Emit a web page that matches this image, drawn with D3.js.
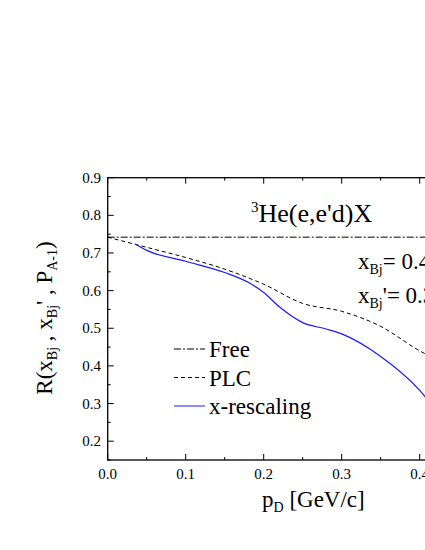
<!DOCTYPE html><html><head><meta charset="utf-8"><script src="https://cdn.jsdelivr.net/npm/d3@7"></script>
<style>body{margin:0;background:#fff}svg{display:block;font-family:"Liberation Serif","Times New Roman",serif}</style></head><body>
<svg id="c" width="425" height="550"></svg>
<script>
const freeX=[0,0.45], freeY=[0.742,0.742];
const plcX=[0,0.05,0.1,0.15,0.2,0.25,0.3,0.35,0.4,0.42];
const plcY=[0.742,0.715,0.688,0.657,0.617,0.566,0.545,0.505,0.44,0.418];
const xrX=[0.035,0.05,0.1,0.15,0.18,0.2,0.22,0.25,0.28,0.3,0.35,0.4,0.415];
const xrY=[0.724,0.707,0.678,0.648,0.622,0.595,0.557,0.515,0.498,0.485,0.425,0.335,0.298];
const xTicks=[0,0.1,0.2,0.3,0.4], yTicks=[0.2,0.3,0.4,0.5,0.6,0.7,0.8,0.9];
const svg=d3.select("#c");
const x=d3.scaleLinear().domain([0,0.45]).range([107.7,458.7]);
const y=d3.scaleLinear().domain([0.15,0.9]).range([460,177.7]);
const g=svg.append("g");
g.append("rect").attr("x",x(0)).attr("y",y(0.9)).attr("width",x(0.45)-x(0)).attr("height",y(0.15)-y(0.9)).attr("fill","none").attr("stroke","#000").attr("stroke-width",1.3);
[0,0.05,0.1,0.15,0.2,0.25,0.3,0.35,0.4].forEach(v=>{const L=xTicks.some(t=>Math.abs(t-v)<1e-9)?6:3;
 g.append("line").attr("x1",x(v)).attr("x2",x(v)).attr("y1",y(0.15)).attr("y2",y(0.15)-L).attr("stroke","#000");
 g.append("line").attr("x1",x(v)).attr("x2",x(v)).attr("y1",y(0.9)).attr("y2",y(0.9)+L).attr("stroke","#000");});
d3.range(0.15,0.901,0.05).forEach(v=>{const L=Math.abs(v*10-Math.round(v*10))<1e-6?6:3;
 g.append("line").attr("x1",x(0)).attr("x2",x(0)+L).attr("y1",y(v)).attr("y2",y(v)).attr("stroke","#000");});
xTicks.forEach(v=>g.append("text").attr("x",x(v)).attr("y",479).attr("text-anchor","middle").attr("font-size",15).text(v.toFixed(1)));
yTicks.forEach(v=>g.append("text").attr("x",101).attr("y",y(v)+5).attr("text-anchor","end").attr("font-size",15).text(v.toFixed(1)));
const ln=d3.line().x(d=>x(d[0])).y(d=>y(d[1])).curve(d3.curveMonotoneX);
g.append("path").attr("d",ln(d3.zip(freeX,freeY))).attr("fill","none").attr("stroke","#000").attr("stroke-dasharray","7,2,2,2");
g.append("path").attr("d",ln(d3.zip(plcX,plcY))).attr("fill","none").attr("stroke","#000").attr("stroke-dasharray","4,3");
g.append("path").attr("d",ln(d3.zip(xrX,xrY))).attr("fill","none").attr("stroke","#1a1aff").attr("stroke-width",1.2);
const leg=[["Free","7,2,2,2","#000"],["PLC","4,3","#000"],["x-rescaling",null,"#1a1aff"]];
leg.forEach((d,i)=>{const yy=349+i*28.5;
 g.append("line").attr("x1",174).attr("x2",205).attr("y1",yy).attr("y2",yy).attr("stroke",d[2]).attr("stroke-dasharray",d[1]);
 g.append("text").attr("x",209).attr("y",yy+8).attr("font-size",23).text(d[0]);});
const t=g.append("text").attr("x",251).attr("y",222).attr("font-size",26);
t.append("tspan").attr("font-size",15).attr("dy",-10).text("3");t.append("tspan").attr("dy",10).text("He(e,e'd)X");
const a=g.append("text").attr("x",358).attr("y",269).attr("font-size",23);
a.append("tspan").text("x");a.append("tspan").attr("font-size",14).attr("dy",5).text("Bj");a.append("tspan").attr("dy",-5).text("= 0.4");
const b=g.append("text").attr("x",358).attr("y",303).attr("font-size",23);
b.append("tspan").text("x");b.append("tspan").attr("font-size",14).attr("dy",5).text("Bj");b.append("tspan").attr("dy",-5).text("'= 0.3");
const xl=g.append("text").attr("x",262).attr("y",507).attr("font-size",23);
xl.append("tspan").text("p");xl.append("tspan").attr("font-size",14).attr("dy",5).text("D");xl.append("tspan").attr("dy",-5).text(" [GeV/c]");
const yl=g.append("text").attr("transform","translate(52,318) rotate(-90)").attr("text-anchor","middle").attr("font-size",23);
yl.append("tspan").text("R(x");yl.append("tspan").attr("font-size",14).attr("dy",5).text("Bj");yl.append("tspan").attr("dy",-5).text(" , x");
yl.append("tspan").attr("font-size",14).attr("dy",5).text("Bj");yl.append("tspan").attr("dy",-5).text("' , P");
yl.append("tspan").attr("font-size",14).attr("dy",5).text("A-1");yl.append("tspan").attr("dy",-5).text(")");
</script></body></html>
